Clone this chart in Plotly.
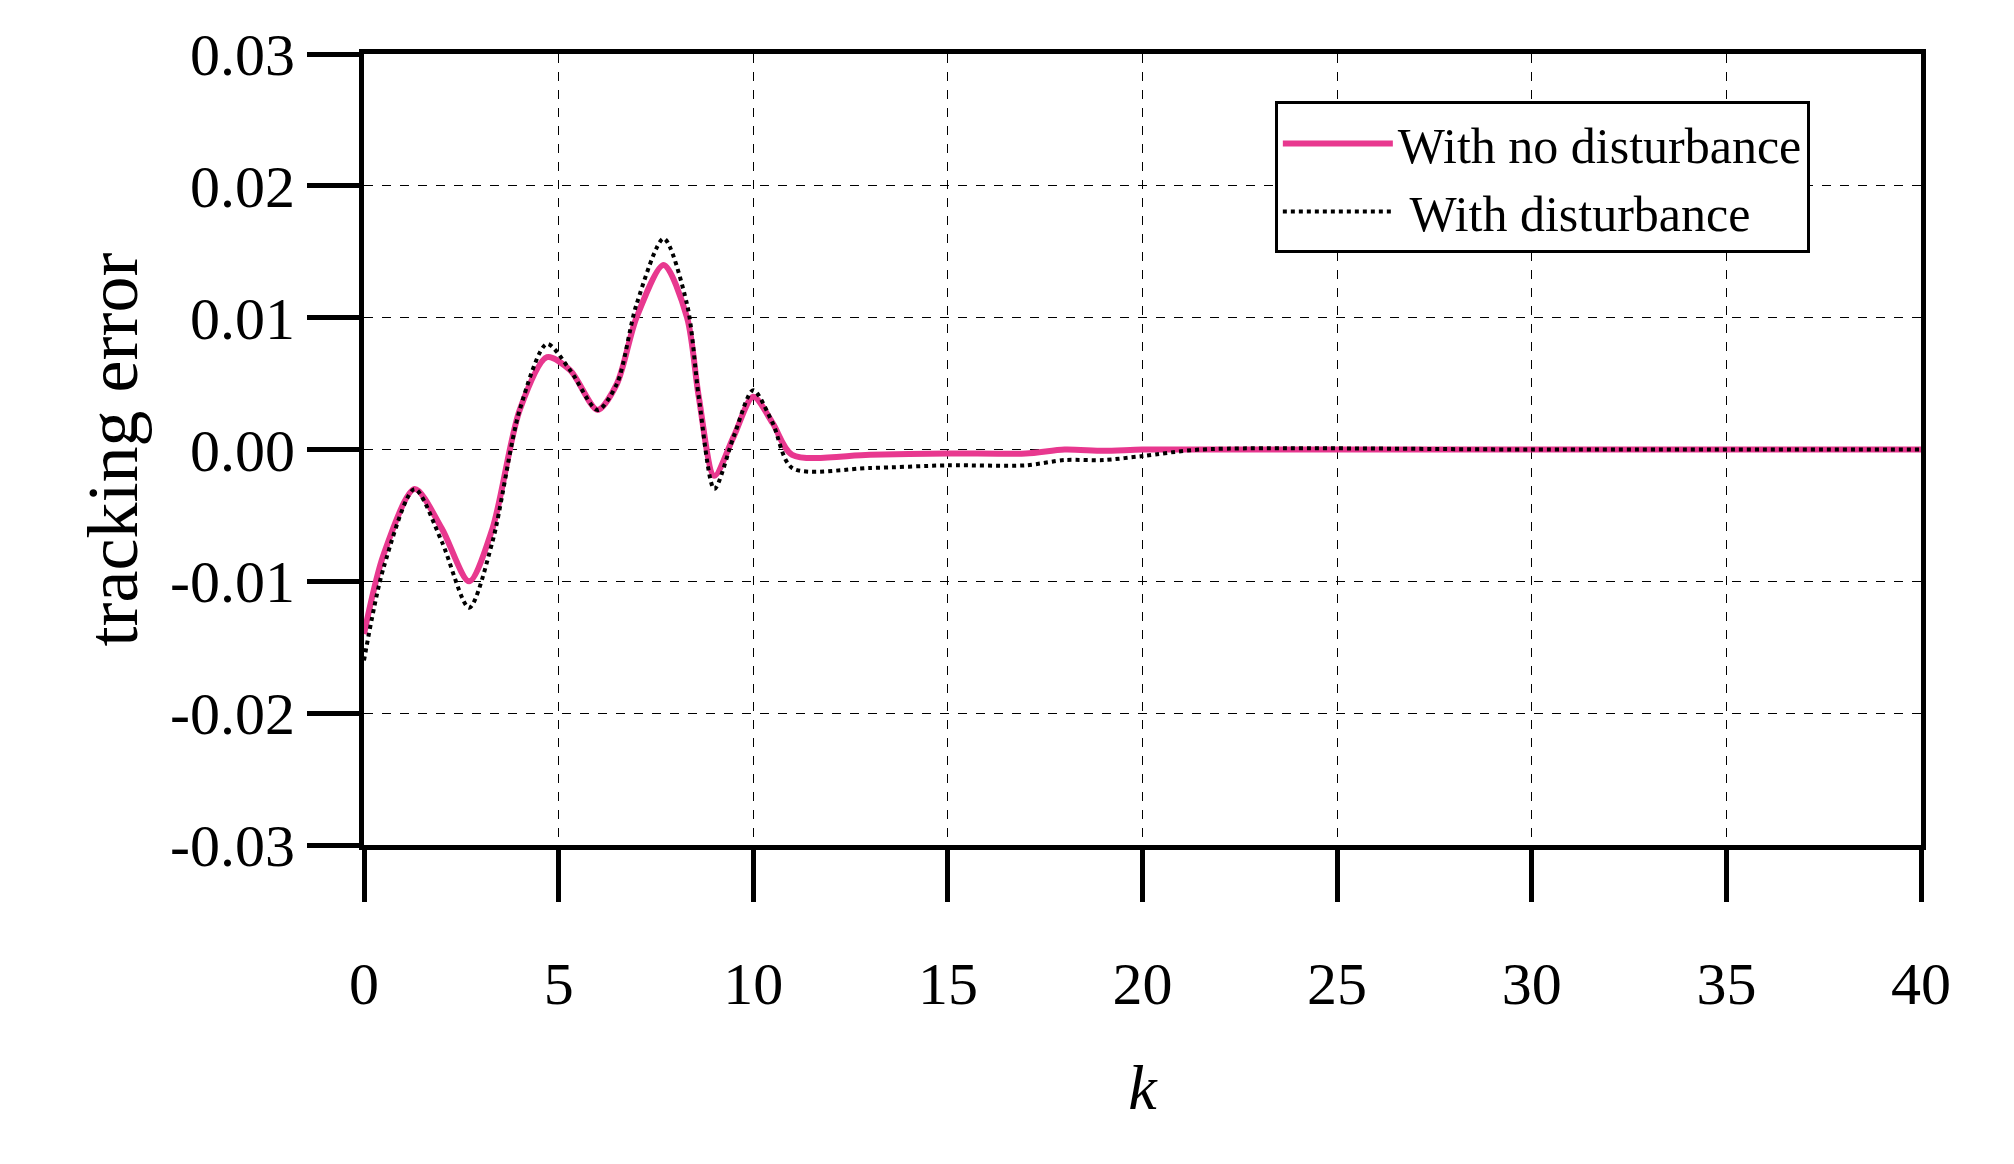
import plotly.graph_objects as go

k1 = [0, 0.5, 1.3, 2, 2.7, 3.3, 4, 4.7, 5.3, 6, 6.5, 7, 7.7, 8.3, 8.6, 9, 9.5, 10, 10.5, 11, 13, 15, 17, 18, 19, 20, 22, 30, 40]
e1 = [-0.014, -0.008, -0.003, -0.006, -0.010, -0.006, 0.003, 0.007, 0.006, 0.003, 0.005, 0.010, 0.014, 0.010, 0.004, -0.002, 0.001, 0.004, 0.002, -0.0004, -0.0004, -0.0003, -0.0003, 0.0, -0.0001, 0.0, 0.0, 0.0, 0.0]
k2 = [0, 0.5, 1.3, 2, 2.7, 3.3, 4, 4.7, 5.3, 6, 6.5, 7, 7.7, 8.3, 8.6, 9, 9.5, 10, 10.5, 11, 13, 15, 17, 18, 19, 20, 21.5, 30, 40]
e2 = [-0.016, -0.009, -0.003, -0.007, -0.012, -0.007, 0.003, 0.008, 0.006, 0.003, 0.005, 0.011, 0.016, 0.011, 0.004, -0.003, 0.001, 0.0045, 0.002, -0.0014, -0.0014, -0.0012, -0.0012, -0.0008, -0.0008, -0.0005, 0.0, 0.0, 0.0]

fig = go.Figure()
fig.add_trace(go.Scatter(x=k1, y=e1, mode="lines", name="With no disturbance",
                         line=dict(color="#e8388f", width=6, shape="spline", smoothing=0.8)))
fig.add_trace(go.Scatter(x=k2, y=e2, mode="lines", name=" With disturbance",
                         line=dict(color="black", width=4, dash="dot", shape="spline", smoothing=0.8)))

font = "Liberation Serif"
fig.update_layout(
    width=2014, height=1164, paper_bgcolor="white", plot_bgcolor="white",
    margin=dict(l=356, r=101, t=46, b=327),
    font=dict(family=font, size=60, color="black"),
    showlegend=True,
    legend=dict(x=0.585, y=0.94, xanchor="left", yanchor="top", bgcolor="white",
                bordercolor="black", borderwidth=3, font=dict(size=50), tracegroupgap=0,
                itemwidth=110),
)
fig.update_xaxes(range=[0, 40], tickvals=list(range(0, 41, 5)), showline=True, linecolor="black",
                 linewidth=5, mirror=True, ticks="outside", ticklen=52, tickwidth=5, tickcolor="black",
                 ticklabelstandoff=30,
                 showgrid=True, gridcolor="black", griddash="dash", gridwidth=1, zeroline=False,
                 title=dict(text="<i>k</i>", font=dict(size=64), standoff=50))
fig.update_yaxes(range=[-0.03, 0.03], tickvals=[-0.03, -0.02, -0.01, 0, 0.01, 0.02, 0.03],
                 ticktext=["-0.03", "-0.02", "-0.01", "0.00", "0.01", "0.02", "0.03"],
                 showline=True, linecolor="black", linewidth=5, mirror=True, ticks="outside",
                 ticklen=52, tickwidth=5, tickcolor="black", showgrid=True, gridcolor="black",
                 griddash="dash", gridwidth=1, zeroline=False,
                 title=dict(text="tracking error", font=dict(size=72), standoff=10))
fig.write_html("out.html")
